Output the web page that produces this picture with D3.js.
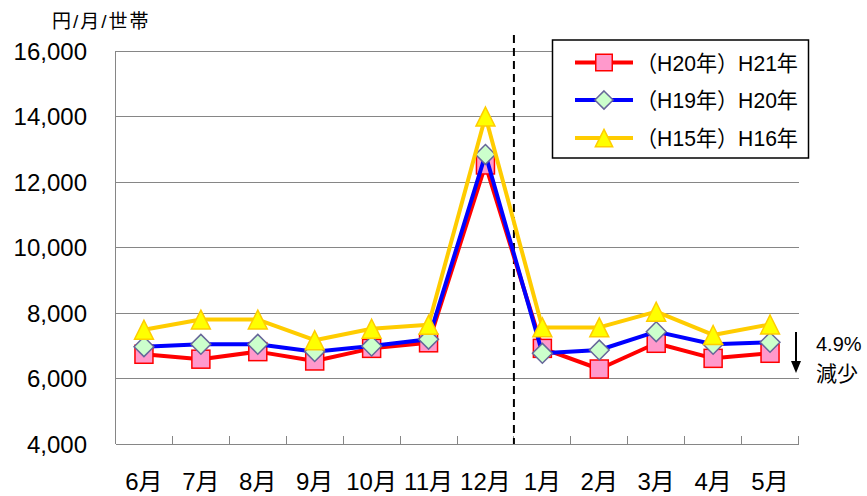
<!DOCTYPE html>
<html><head><meta charset="utf-8">
<script src="https://cdn.jsdelivr.net/npm/d3@7"></script>
<style>
html,body{margin:0;padding:0;background:#fff;}
text{font-family:"Liberation Sans","Noto Sans CJK JP",sans-serif;fill:#000;}
</style></head>
<body>
<svg id="chart" width="867" height="496"></svg>
<script>
const months = ["6月","7月","8月","9月","10月","11月","12月","1月","2月","3月","4月","5月"];
const seriesNames = ["（H20年）H21年","（H19年）H20年","（H15年）H16年"];
const valuesH21 = [6740,6590,6820,6535,6920,7090,12520,6920,6290,7075,6615,6770];
const valuesH20 = [6970,7045,7045,6820,6990,7200,12840,6770,6870,7430,7045,7105];
const valuesH16 = [7490,7800,7800,7170,7520,7640,14000,7560,7560,8040,7330,7650];
const yTicks = [4000,6000,8000,10000,12000,14000,16000];
const unitLabel = "円/月/世帯";
const noteLines = ["4.9%","減少"];

const series = [
  {name:seriesNames[0], values:valuesH21, line:"#ff0000", fill:"#ff99cc", stroke:"#ff0000", shape:"square"},
  {name:seriesNames[1], values:valuesH20, line:"#0000ff", fill:"#ccffcc", stroke:"#666699", shape:"diamond"},
  {name:seriesNames[2], values:valuesH16, line:"#ffcc00", fill:"#ffff00", stroke:"#ffcc00", shape:"triangle"}
];

const svg = d3.select("#chart");
const x = d3.scaleBand().domain(months).range([115.5, 798.5]).padding(0);
const y = d3.scaleLinear().domain([4000,16000]).range([444,51]);
const fmt = d3.format(",");

// gridlines
svg.append("g").selectAll("line").data(yTicks.slice(1)).join("line")
  .attr("x1", x.range()[0]).attr("x2", x.range()[1])
  .attr("y1", d=>y(d)).attr("y2", d=>y(d))
  .attr("stroke","#868686").attr("stroke-width",1).attr("shape-rendering","crispEdges");

// y axis line
svg.append("line").attr("x1",x.range()[0]).attr("x2",x.range()[0])
  .attr("y1",y(16000)).attr("y2",y(4000))
  .attr("stroke","#868686").attr("stroke-width",1).attr("shape-rendering","crispEdges");
// x axis line
svg.append("line").attr("x1",x.range()[0]).attr("x2",x.range()[1])
  .attr("y1",y(4000)).attr("y2",y(4000))
  .attr("stroke","#868686").attr("stroke-width",1).attr("shape-rendering","crispEdges");
// x ticks (band boundaries, pointing up)
const bounds = months.map(m=>x(m)).concat([x.range()[1]]);
svg.append("g").selectAll("line").data(bounds).join("line")
  .attr("x1",d=>d).attr("x2",d=>d).attr("y1",y(4000)).attr("y2",y(4000)-8)
  .attr("stroke","#868686").attr("stroke-width",1).attr("shape-rendering","crispEdges");

// y labels
svg.append("g").selectAll("text").data(yTicks).join("text")
  .attr("x",87).attr("y",d=>y(d)+8.5).attr("text-anchor","end")
  .style("font-size","24px").text(d=>fmt(d));

// x labels
svg.append("g").selectAll("text").data(months).join("text")
  .attr("x",d=>x(d)+x.bandwidth()/2).attr("y",490).attr("text-anchor","middle")
  .style("font-size","24px").text(d=>d);

// unit label
svg.append("text").attr("x",52).attr("y",28).style("font-size","19px")
  .style("letter-spacing","2px").text(unitLabel);

// dashed divider between 12月 and 1月
svg.append("line").attr("x1",x("1月")).attr("x2",x("1月"))
  .attr("y1",35).attr("y2",y(4000))
  .attr("stroke","#000").attr("stroke-width",2).attr("stroke-dasharray","8,5");

function marker(g, s, cx, cy, size){
  if(s.shape==="square"){
    g.append("rect").attr("x",cx-size/2).attr("y",cy-size/2).attr("width",size).attr("height",size)
      .attr("fill",s.fill).attr("stroke",s.stroke).attr("stroke-width",1.5);
  } else if(s.shape==="diamond"){
    const r=size*0.55;
    g.append("path").attr("d",`M${cx},${cy-r}L${cx+r},${cy}L${cx},${cy+r}L${cx-r},${cy}Z`)
      .attr("fill",s.fill).attr("stroke",s.stroke).attr("stroke-width",1.5);
  } else {
    const h=size*1.05, w=size*1.05;
    g.append("path").attr("d",`M${cx},${cy-h/2}L${cx+w/2},${cy+h/2}L${cx-w/2},${cy+h/2}Z`)
      .attr("fill",s.fill).attr("stroke",s.stroke).attr("stroke-width",1.5);
  }
}

const line = d3.line().x((d,i)=>x(months[i])+x.bandwidth()/2).y(d=>y(d));
series.forEach(s=>{
  const g = svg.append("g");
  g.append("path").attr("d",line(s.values)).attr("fill","none")
    .attr("stroke",s.line).attr("stroke-width",4).attr("stroke-linejoin","round");
  s.values.forEach((v,i)=>marker(g,s,x(months[i])+x.bandwidth()/2,y(v),18));
});

// legend
const lg = svg.append("g");
lg.append("rect").attr("x",552.5).attr("y",40).attr("width",256).attr("height",118)
  .attr("fill","#fff").attr("stroke","#000").attr("stroke-width",1.5);
const rowY = [62.5,100,138];
series.forEach((s,i)=>{
  lg.append("line").attr("x1",575).attr("x2",633).attr("y1",rowY[i]).attr("y2",rowY[i])
    .attr("stroke",s.line).attr("stroke-width",4);
  marker(lg,s,604,rowY[i],16.5);
  lg.append("text").attr("x",636).attr("y",rowY[i]+8).style("font-size","22px")
    .attr("textLength",162).attr("lengthAdjust","spacingAndGlyphs").text(s.name);
});

// note arrow
const ag = svg.append("g");
ag.append("line").attr("x1",796).attr("x2",796).attr("y1",332).attr("y2",362)
  .attr("stroke","#000").attr("stroke-width",2);
ag.append("path").attr("d","M791,361L801,361L796,373Z").attr("fill","#000");
ag.append("text").attr("x",816).attr("y",351).style("font-size","20px").text(noteLines[0]);
ag.append("text").attr("x",816).attr("y",381).style("font-size","21px").text(noteLines[1]);
</script>
</body></html>
